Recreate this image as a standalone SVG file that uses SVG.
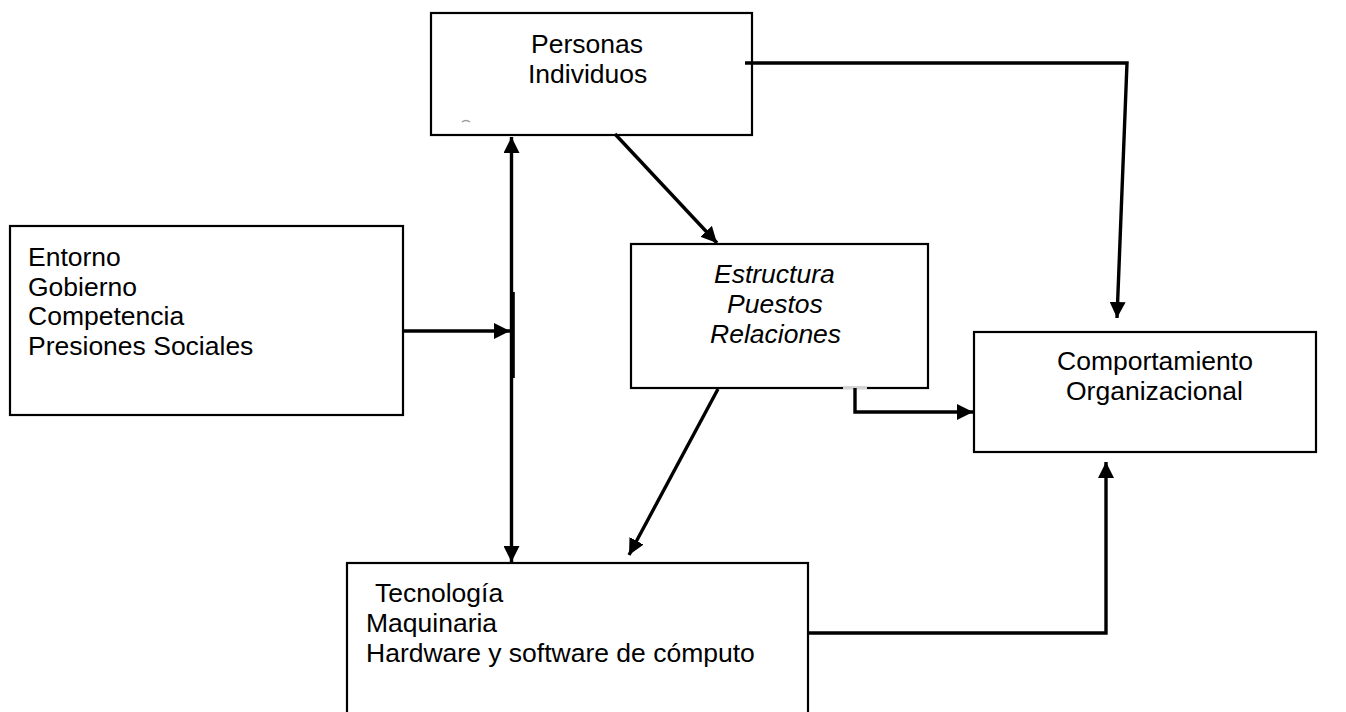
<svg xmlns="http://www.w3.org/2000/svg" width="1346" height="712" viewBox="0 0 1346 712">
  <style>
    .box { fill: #ffffff; stroke: #000000; stroke-width: 2.2; }
    .lbl { font-family: "Liberation Sans", Arial, sans-serif; font-size: 26.5px; fill: #000000; }
    .it { font-style: italic; }
    .wire { fill: none; stroke: #000000; stroke-width: 3.4; }
  </style>
  <defs>
    <marker id="head" markerUnits="userSpaceOnUse" markerWidth="16" markerHeight="16" refX="16" refY="8" orient="auto-start-reverse">
      <path d="M0,0 L16,8 L0,16 z" fill="#000000"/>
    </marker>
  </defs>
  <rect width="1346" height="712" fill="#ffffff"/>

  <g id="personas">
    <rect class="box" x="431" y="13" width="321" height="122"/>
    <text class="lbl" x="531" y="53">Personas</text>
    <text class="lbl" x="528" y="83">Individuos</text>
    <path d="M462,122 Q466,119 470,122" fill="none" stroke="#9a9a9a" stroke-width="1.5"/>
  </g>

  <g id="entorno">
    <rect class="box" x="10" y="226" width="393" height="189"/>
    <text class="lbl" x="28" y="266">Entorno</text>
    <text class="lbl" x="28" y="296">Gobierno</text>
    <text class="lbl" x="28" y="325">Competencia</text>
    <text class="lbl" x="28" y="355">Presiones Sociales</text>
  </g>

  <g id="estructura">
    <rect class="box" x="631" y="244" width="297" height="144"/>
    <text class="lbl it" x="714" y="283">Estructura</text>
    <text class="lbl it" x="727" y="313">Puestos</text>
    <text class="lbl it" x="710" y="343">Relaciones</text>
  </g>

  <g id="comportamiento">
    <rect class="box" x="974" y="332" width="342" height="120"/>
    <text class="lbl" x="1057" y="370">Comportamiento</text>
    <text class="lbl" x="1066" y="400">Organizacional</text>
  </g>

  <g id="tecnologia">
    <rect class="box" x="347" y="563" width="461" height="160"/>
    <text class="lbl" x="375" y="602">Tecnología</text>
    <text class="lbl" x="366" y="632">Maquinaria</text>
    <text class="lbl" x="366" y="662">Hardware y software de cómputo</text>
  </g>

  <g id="connectors">
    <!-- Personas to Comportamiento, over the top -->
    <polyline class="wire" points="745,63 1127,63 1117,318" marker-end="url(#head)"/>
    <!-- Personas to Estructura -->
    <line class="wire" x1="615" y1="134" x2="717" y2="243" marker-end="url(#head)"/>
    <!-- Personas and Tecnología, both ways -->
    <line class="wire" x1="511.5" y1="137" x2="511.5" y2="562" marker-start="url(#head)" marker-end="url(#head)"/>
    <line x1="513" y1="292" x2="513" y2="378" stroke="#000000" stroke-width="3.6"/>
    <!-- Entorno into the vertical link -->
    <line class="wire" x1="403" y1="331" x2="510" y2="331" marker-end="url(#head)"/>
    <!-- Estructura to Tecnología -->
    <line class="wire" x1="718" y1="389" x2="629" y2="555" marker-end="url(#head)"/>
    <!-- Estructura to Comportamiento -->
    <rect x="843" y="386" width="24" height="3" fill="#d4d4d4"/>
    <polyline class="wire" points="855,388 855,412 973,412" stroke-width="4" marker-end="url(#head)"/>
    <!-- Tecnología to Comportamiento -->
    <polyline class="wire" points="808,633 1106,633 1106,462" marker-end="url(#head)"/>
  </g>
</svg>
